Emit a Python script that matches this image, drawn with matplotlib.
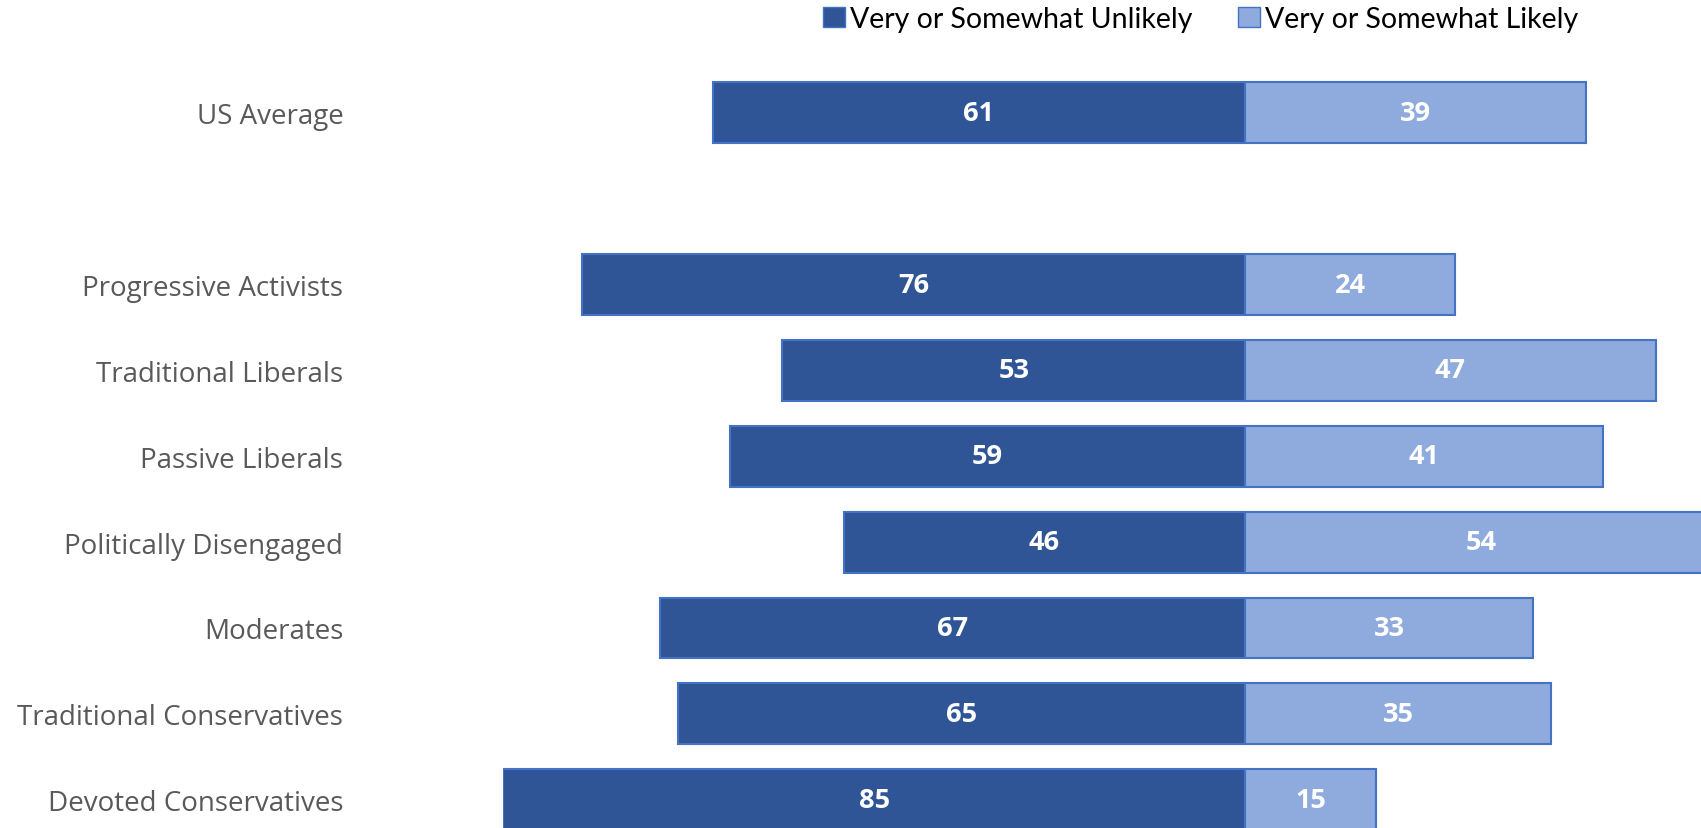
import matplotlib.pyplot as plt

groups = ["US Average", "", "Progressive Activists", "Traditional Liberals",
          "Passive Liberals", "Politically Disengaged", "Moderates",
          "Traditional Conservatives", "Devoted Conservatives"]
unlikely = [61, None, 76, 53, 59, 46, 67, 65, 85]
likely = [39, None, 24, 47, 41, 54, 33, 35, 15]

dark = "#2F5597"
light = "#8FAADC"
edge = "#4472C4"

fig = plt.figure(figsize=(17.01, 8.29), dpi=100)
# axes: left at x=503px, right edge of figure, top at ~71px, bottom at figure bottom
ax = fig.add_axes([503 / 1701, 0, 1 - 503 / 1701, 1 - 71 / 829])

for i in range(len(groups)):
    if unlikely[i] is None:
        continue
    ax.barh(i, -unlikely[i], height=0.71, color=dark, edgecolor=edge, linewidth=1.5)
    ax.barh(i, likely[i], height=0.71, color=light, edgecolor=edge, linewidth=1.5)
    ax.text(-unlikely[i] / 2, i, str(unlikely[i]), color="white", ha="center",
            va="center", fontsize=19.5, fontweight="bold", family="Open Sans")
    ax.text(likely[i] / 2, i, str(likely[i]), color="white", ha="center",
            va="center", fontsize=19.5, fontweight="bold", family="Open Sans")

ax.set_xlim(-85, 52.2)
ax.set_ylim(8.33, -0.5)
ax.set_yticks(range(len(groups)))
ax.set_yticklabels(groups, fontsize=20, color="#595959", family="Open Sans")
ax.tick_params(axis="y", length=0, pad=115)
ax.set_xticks([])
for s in ax.spines.values():
    s.set_visible(False)

handles = [plt.Rectangle((0, 0), 1, 1, facecolor=dark, edgecolor=edge),
           plt.Rectangle((0, 0), 1, 1, facecolor=light, edgecolor=edge)]
fig.legend(handles, ["Very or Somewhat Unlikely", "Very or Somewhat Likely"],
           loc="center", bbox_to_anchor=(0.706, 0.976), ncol=2, frameon=False,
           prop={"family": "Lato", "size": 20.5}, handlelength=0.75, handleheight=0.75,
           handletextpad=0.2, columnspacing=1.6)

fig.savefig("out.png", dpi=100)
